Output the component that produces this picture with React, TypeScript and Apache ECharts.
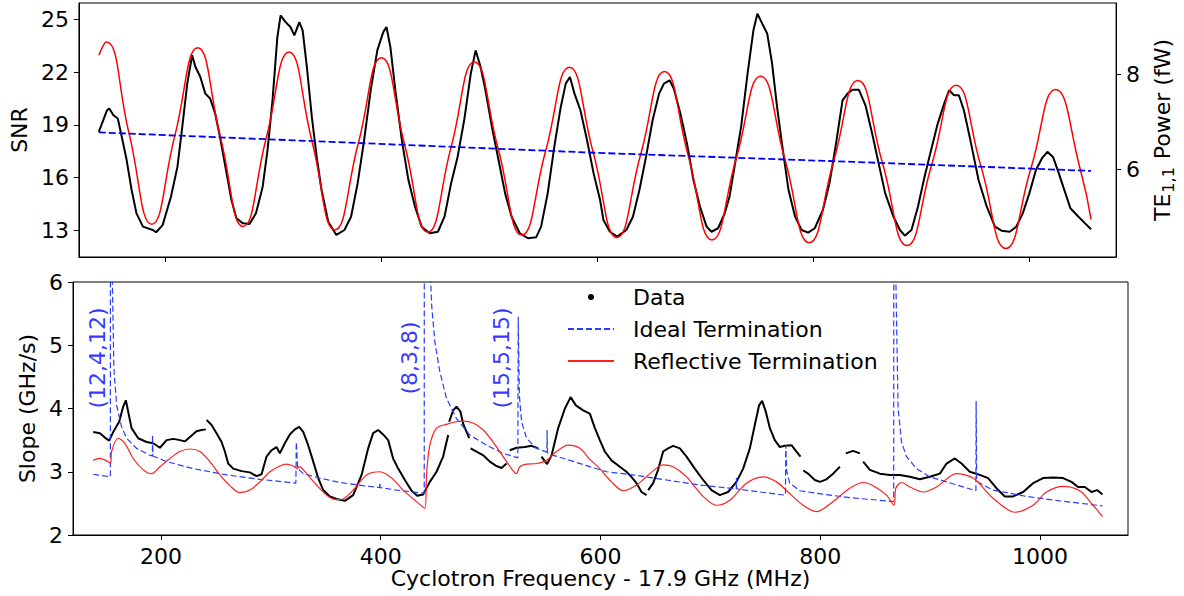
import React, { useEffect, useRef } from 'react';
import * as echarts from 'echarts';

const FONT = 'DejaVu Sans';

// Tick values
const xTicks = [200, 400, 600, 800, 1000];
const snrTicks = [13, 16, 19, 22, 25];
const powerTicks = [6, 8];
const slopeTicks = [2, 3, 4, 5, 6];

// Top panel: measured SNR (MHz, SNR)
const snrData = [
  [138.4, 18.6], [140.8, 18.98], [146.0, 19.83], [148.1, 19.93], [152.0, 19.55], [156.0, 19.36], [159.0, 18.51],
  [164.2, 16.99], [168.8, 15.28], [173.3, 13.95], [179.3, 13.19], [188.4, 13.0], [191.5, 12.87], [197.5, 13.28],
  [205.2, 14.9], [211.2, 16.6], [215.7, 18.88], [220.3, 21.35], [224.8, 22.97], [227.9, 22.3], [232.4, 21.73],
  [237.0, 20.78], [241.5, 20.5], [246.1, 19.65], [250.6, 18.31], [256.7, 16.23], [261.2, 14.71], [265.8, 13.67],
  [271.9, 13.38], [277.9, 13.34], [283.9, 13.95], [290.1, 15.47], [294.6, 17.56], [299.2, 20.4], [303.7, 24.0],
  [306.7, 25.24], [311.3, 24.86], [315.8, 24.58], [319.4, 24.1], [324.0, 24.86], [327.1, 24.39], [331.0, 22.3],
  [335.6, 19.45], [340.1, 17.17], [344.6, 15.28], [350.8, 13.47], [358.3, 12.72], [365.8, 13.0], [371.9, 13.76],
  [378.0, 15.66], [384.0, 18.13], [390.1, 20.98], [396.2, 23.25], [401.7, 24.29], [404.7, 24.58], [408.3, 23.44],
  [412.9, 20.97], [418.9, 18.13], [425.0, 15.85], [431.1, 14.33], [437.2, 13.19], [444.7, 12.81], [452.3, 12.9],
  [458.4, 13.76], [464.5, 15.66], [470.5, 17.17], [476.6, 19.26], [482.7, 21.92], [487.2, 23.25], [491.8, 22.3],
  [496.3, 20.97], [502.3, 18.88], [508.4, 16.99], [514.5, 15.09], [520.5, 13.76], [528.2, 12.81], [535.7, 12.53],
  [543.2, 12.58], [547.8, 13.19], [553.9, 15.09], [560.0, 17.74], [566.0, 20.02], [570.6, 21.35], [574.5, 21.73],
  [578.7, 20.78], [584.2, 19.83], [590.3, 18.13], [596.4, 16.23], [602.4, 14.71], [605.5, 13.57], [611.5, 12.9],
  [618.2, 12.62], [626.7, 13.0], [632.8, 13.76], [638.8, 15.28], [644.9, 17.17], [651.0, 19.26], [657.0, 20.78],
  [661.5, 21.35], [666.7, 21.54], [670.6, 21.07], [676.7, 19.65], [682.8, 17.94], [688.8, 15.85], [694.9, 14.33],
  [701.0, 13.19], [705.5, 12.9], [711.6, 13.1], [717.7, 13.95], [722.2, 14.9], [726.8, 16.6], [732.9, 18.88],
  [738.9, 21.92], [744.3, 24.39], [748.0, 25.34], [752.5, 24.77], [757.1, 24.2], [761.6, 22.49], [766.2, 20.02],
  [770.7, 17.94], [776.8, 15.28], [782.9, 13.76], [788.9, 13.0], [795.0, 12.85], [801.1, 13.1], [808.6, 14.14],
  [814.7, 15.66], [820.8, 17.94], [826.8, 20.4], [831.4, 20.78], [836.0, 21.0], [842.0, 21.0], [848.1, 20.1],
  [854.2, 18.51], [860.2, 16.8], [866.3, 15.09], [873.9, 13.76], [879.9, 13.0], [884.5, 12.68], [890.6, 13.0],
  [896.6, 14.33], [902.7, 16.04], [908.8, 17.56], [914.9, 19.07], [920.9, 20.21], [925.4, 20.97], [930.0, 20.69],
  [934.5, 20.69], [939.1, 19.83], [945.1, 18.13], [952.7, 15.85], [960.3, 14.33], [967.9, 13.19], [974.0, 12.96],
  [981.5, 12.9], [987.6, 13.19], [993.6, 13.95], [999.7, 15.09], [1005.8, 16.42], [1011.3, 17.08], [1016.4, 17.46],
  [1021.6, 17.17], [1027.0, 16.23], [1033.1, 15.09], [1037.7, 14.24], [1045.2, 13.76], [1051.3, 13.38], [1056.8, 13.04],
];

// Top panel: TE11 power (fW), reflective model (extrema and mid crossings)
const powerReflective = [
  [138.4, 8.4], [145.4, 8.68], [166.3, 6.77], [187.5, 4.85], [208.7, 6.7], [230.0, 8.56], [251.0, 6.68],
  [272.0, 4.8], [293.2, 6.64], [314.5, 8.47], [335.7, 6.6], [357.0, 4.73], [378.5, 6.54], [400.0, 8.35],
  [421.5, 6.52], [443.0, 4.68], [464.5, 6.47], [486.0, 8.26], [508.0, 6.44], [530.0, 4.62], [552.0, 6.39],
  [574.0, 8.15], [596.0, 6.36], [618.0, 4.57], [640.0, 6.32], [662.0, 8.06], [684.0, 6.29], [706.0, 4.52],
  [728.5, 6.24], [751.0, 7.96], [773.5, 6.21], [796.0, 4.46], [818.5, 6.17], [841.0, 7.87], [863.7, 6.14],
  [886.5, 4.4], [909.2, 6.09], [932.0, 7.77], [955.0, 6.06], [978.0, 4.34], [1001.0, 6.01], [1024.0, 7.68],
  [1047.0, 5.99], [1056.8, 4.95],
];

// Top panel: TE11 power (fW), ideal model
const powerIdeal = [[138.4, 6.78], [353.7, 6.58], [599.4, 6.35], [836.0, 6.16], [1056.8, 5.97]];

// Bottom panel: measured slope (GHz/s); null = gap in the data
const slopeData = [
  [138.4, 3.63], [144.5, 3.61], [149.0, 3.54], [152.9, 3.49], [156.6, 3.63], [162.0, 3.79], [165.7, 4.03],
  [168.1, 4.13], [170.2, 3.95], [173.3, 3.69], [179.3, 3.53], [186.9, 3.47], [193.0, 3.45], [199.1, 3.38],
  [205.2, 3.5], [211.2, 3.52], [217.3, 3.5], [221.8, 3.48], [226.4, 3.55], [232.4, 3.64], [237.0, 3.66],
  [240.9, 3.67], [241.2, null], [241.5, 3.82], [246.1, 3.74], [250.6, 3.61], [255.2, 3.47], [258.2, 3.32],
  [261.2, 3.13], [265.8, 3.05], [273.4, 3.01], [280.9, 2.99], [287.0, 2.93], [291.6, 2.96], [296.1, 3.24],
  [300.7, 3.34], [305.2, 3.39], [308.2, 3.29], [312.8, 3.45], [317.3, 3.59], [321.9, 3.67], [325.8, 3.71],
  [329.5, 3.63], [334.0, 3.42], [338.6, 3.16], [343.1, 2.9], [347.7, 2.71], [353.7, 2.61], [359.8, 2.57],
  [367.4, 2.54], [374.9, 2.63], [382.6, 2.95], [388.6, 3.37], [393.1, 3.61], [397.7, 3.66], [402.2, 3.59],
  [406.8, 3.5], [411.3, 3.21], [415.9, 3.05], [422.0, 2.87], [428.1, 2.7], [433.2, 2.62], [438.6, 2.64],
  [444.7, 2.84], [450.8, 3.0], [456.8, 3.24], [461.4, 3.58], [461.9, null], [462.3, 3.79], [465.9, 3.97],
  [469.0, 4.03], [472.6, 3.95], [475.0, 3.76], [478.1, 3.63], [480.5, 3.53], [481.2, null], [481.8, 3.37],
  [487.2, 3.32], [493.3, 3.26], [499.3, 3.16], [505.4, 3.09], [509.9, 3.06], [514.5, 3.13], [516.0, null],
  [517.5, 3.34], [523.6, 3.38], [531.2, 3.39], [537.3, 3.41], [543.3, 3.37], [544.8, null], [546.3, 3.24],
  [551.4, 3.12], [555.5, 3.26], [561.5, 3.69], [567.6, 4.0], [572.8, 4.18], [577.6, 4.05], [584.2, 3.97],
  [590.3, 3.92], [594.9, 3.69], [599.4, 3.5], [603.9, 3.32], [610.0, 3.18], [617.6, 3.08], [623.6, 3.0],
  [628.1, 2.92], [632.8, 2.82], [637.3, 2.68], [641.9, 2.63], [642.6, null], [643.4, 2.71], [647.9, 2.82],
  [652.4, 3.03], [657.0, 3.32], [661.5, 3.37], [666.1, 3.41], [672.2, 3.37], [678.3, 3.24], [685.8, 3.05],
  [693.4, 2.87], [701.0, 2.71], [708.6, 2.63], [716.1, 2.68], [723.7, 2.84], [729.8, 3.05], [735.9, 3.37],
  [740.4, 3.74], [744.3, 4.05], [747.1, 4.12], [750.4, 3.95], [754.1, 3.69], [758.6, 3.5], [763.2, 3.39],
  [767.7, 3.41], [773.8, 3.42], [778.3, 3.32], [782.0, 3.24], [783.2, null], [784.5, 3.02], [788.9, 2.97],
  [795.0, 2.87], [799.6, 2.84], [805.6, 2.88], [811.7, 2.97], [817.8, 3.08], [820.5, null], [823.2, 3.29],
  [829.9, 3.33], [836.0, 3.29], [837.5, null], [839.0, 3.16], [845.1, 3.03], [854.2, 2.97], [863.3, 2.95],
  [872.4, 2.95], [881.5, 2.92], [890.6, 2.88], [899.6, 2.92], [908.8, 2.97], [914.9, 3.13], [922.4, 3.21],
  [928.5, 3.13], [936.0, 3.0], [945.1, 2.95], [952.7, 2.9], [960.3, 2.74], [967.9, 2.61], [975.5, 2.61],
  [984.6, 2.68], [993.6, 2.82], [1002.7, 2.9], [1011.8, 2.91], [1020.9, 2.9], [1028.6, 2.84], [1034.6, 2.76],
  [1040.7, 2.76], [1046.8, 2.68], [1051.9, 2.71], [1056.8, 2.64],
];

// Bottom panel: ideal termination model (GHz/s)
const slopeIdeal = [
  [138.4, 2.96], [154.0, 2.92], [154.3, 20], [155.8, 6.0], [157.2, 4.63], [159.7, 4.05], [164.2, 3.71],
  [168.8, 3.53], [177.9, 3.37], [190.0, 3.26], [192.2, 3.25], [192.4, 3.58], [192.7, 3.25], [205.2, 3.16],
  [229.4, 3.05], [259.8, 2.95], [290.1, 2.88], [322.8, 2.82], [323.2, 3.47], [324.5, 3.05], [329.5, 2.97],
  [344.6, 2.9], [362.8, 2.83], [384.0, 2.78], [399.0, 2.75], [399.2, 2.83], [399.5, 2.75], [414.4, 2.71],
  [439.6, 2.66], [439.9, 20], [444.5, 6.4], [446.5, 5.6], [449.3, 5.05], [453.8, 4.58], [459.9, 4.16],
  [469.0, 3.84], [481.1, 3.58], [496.3, 3.42], [511.4, 3.29], [524.8, 3.22], [525.1, 5.45], [526.2, 4.2],
  [528.2, 3.79], [532.7, 3.53], [541.8, 3.37], [551.2, 3.31], [551.4, 3.66], [551.7, 3.3], [556.9, 3.26],
  [572.1, 3.18], [590.3, 3.08], [605.5, 3.0], [629.6, 2.95], [660.0, 2.87], [690.3, 2.79], [723.5, 2.73],
  [723.7, 2.9], [724.0, 2.73], [735.9, 2.7], [768.3, 2.63], [768.6, 3.42], [769.5, 3.0], [772.2, 2.82],
  [781.4, 2.7], [796.6, 2.66], [826.8, 2.59], [866.8, 2.53], [867.1, 20], [868.8, 6.0], [870.8, 4.0],
  [873.9, 3.47], [878.4, 3.24], [887.5, 3.05], [899.6, 2.92], [914.9, 2.84], [941.6, 2.7], [941.8, 4.12],
  [942.3, 2.86], [945.1, 2.82], [957.3, 2.71], [987.6, 2.61], [1017.9, 2.54], [1056.8, 2.46],
];

// Bottom panel: reflective termination model (GHz/s)
const slopeReflective = [
  [138.4, 3.18], [143.8, 3.21], [149.9, 3.18], [154.2, 3.13], [155.1, 3.32], [161.1, 3.53], [167.2, 3.45],
  [174.8, 3.21], [183.9, 3.03], [191.5, 2.97], [199.1, 3.08], [208.2, 3.21], [217.3, 3.32], [226.4, 3.36],
  [235.5, 3.32], [244.6, 3.16], [253.7, 2.95], [262.8, 2.78], [271.9, 2.67], [280.9, 2.71], [290.1, 2.84],
  [299.2, 3.0], [308.2, 3.09], [314.3, 3.12], [320.3, 3.09], [324.0, 3.05], [325.8, 3.08], [332.5, 2.97],
  [341.6, 2.79], [350.8, 2.63], [359.8, 2.56], [365.8, 2.57], [376.5, 2.74], [387.1, 2.95], [399.3, 3.0],
  [409.9, 2.9], [420.4, 2.71], [431.1, 2.55], [440.2, 2.42], [441.7, 2.95], [444.7, 3.42], [450.8, 3.69],
  [459.9, 3.75], [469.0, 3.79], [475.0, 3.8], [484.1, 3.77], [493.3, 3.66], [502.3, 3.47], [511.4, 3.24],
  [519.0, 3.05], [523.6, 2.97], [526.6, 3.08], [532.7, 3.12], [541.8, 3.13], [550.9, 3.18], [560.0, 3.32],
  [570.6, 3.42], [581.2, 3.37], [590.0, 3.2], [599.4, 3.05], [610.0, 2.84], [620.6, 2.7], [632.8, 2.79],
  [644.9, 2.97], [657.0, 3.11], [666.1, 3.08], [678.3, 2.92], [693.4, 2.61], [705.5, 2.47], [717.7, 2.55],
  [732.9, 2.82], [748.0, 2.92], [760.2, 2.84], [770.7, 2.68], [784.4, 2.47], [796.6, 2.37], [811.7, 2.53],
  [826.8, 2.74], [839.0, 2.83], [848.1, 2.78], [860.2, 2.63], [867.1, 2.47], [868.7, 2.74], [873.9, 2.83],
  [881.5, 2.76], [893.6, 2.68], [905.8, 2.76], [923.9, 2.97], [939.1, 2.9], [957.3, 2.58], [977.0, 2.36],
  [993.6, 2.47], [1005.8, 2.68], [1020.9, 2.77], [1036.1, 2.7], [1048.3, 2.47], [1056.8, 2.29],
];

// Mode annotations
const modeLabels = ['(12,4,12)', '(8,3,8)', '(15,5,15)'];
const modeX = [142.7, 426.5, 509.9];
const modeY = [4.8, 4.8, 4.8];

const withGaps = (arr: any[]) => arr.map((p) => (p[1] === null ? [p[0], '-'] : p));

export default function App() {
  const ref = useRef<HTMLDivElement>(null);
  useEffect(() => {
    if (!ref.current) return;
    const chart = echarts.init(ref.current, null, { renderer: 'svg' });
    const black = '#000000';
    const labelStyle = { fontSize: 22, color: black, fontFamily: FONT };
    const axisLine = { show: true, onZero: false, lineStyle: { color: black, width: 1 } };
    const tick = (vals: number[]) => ({ show: true, length: 5, customValues: vals, lineStyle: { color: black, width: 1 } });
    const plain = (v: number) => String(v);
    chart.setOption({
      animation: false,
      backgroundColor: '#ffffff',
      textStyle: { fontFamily: FONT },
      grid: [
        { left: 73, top: 3, width: 1055, height: 254, show: true, borderColor: black, borderWidth: 1, backgroundColor: 'transparent' },
        { left: 73, top: 282, width: 1055, height: 253, show: true, borderColor: black, borderWidth: 1, backgroundColor: 'transparent' },
      ],
      xAxis: [
        {
          type: 'value', gridIndex: 0, min: 120, max: 1080,
          axisLine, axisTick: tick(xTicks), axisLabel: { show: false }, splitLine: { show: false },
        },
        {
          type: 'value', gridIndex: 1, min: 120, max: 1080,
          name: 'Cyclotron Frequency - 17.9 GHz (MHz)', nameLocation: 'middle', nameGap: 32,
          nameTextStyle: labelStyle,
          axisLine, axisTick: tick(xTicks),
          axisLabel: { ...labelStyle, margin: 10, customValues: xTicks, formatter: plain },
          splitLine: { show: false },
        },
      ],
      yAxis: [
        {
          type: 'value', gridIndex: 0, min: 11.46, max: 25.95,
          name: 'SNR', nameLocation: 'middle', nameGap: 40, nameTextStyle: labelStyle,
          axisLine, axisTick: tick(snrTicks),
          axisLabel: { ...labelStyle, margin: 10, customValues: snrTicks, formatter: plain },
          splitLine: { show: false },
        },
        {
          type: 'value', gridIndex: 0, position: 'right', min: 4.16, max: 9.5,
          name: '{m|TE}{s|1,1}{m| Power (fW)}', nameLocation: 'middle', nameGap: 18,
          nameTextStyle: {
            ...labelStyle,
            rich: {
              m: { fontSize: 22, lineHeight: 28, color: black, fontFamily: FONT },
              s: { fontSize: 16, color: black, fontFamily: FONT, verticalAlign: 'bottom', padding: [0, 1, 0, 1] },
            },
          },
          axisLine, axisTick: tick(powerTicks),
          axisLabel: { ...labelStyle, margin: 10, customValues: powerTicks, formatter: plain },
          splitLine: { show: false },
        },
        {
          type: 'value', gridIndex: 1, min: 2, max: 6, interval: 1,
          name: 'Slope (GHz/s)', nameLocation: 'middle', nameGap: 28, nameTextStyle: labelStyle,
          axisLine, axisTick: tick(slopeTicks),
          axisLabel: { ...labelStyle, margin: 10, customValues: slopeTicks, formatter: plain },
          splitLine: { show: false },
        },
      ],
      legend: {
        data: [
          { name: 'Data', icon: 'path://M0,0M46,14M20,7a3,3 0 1,0 6,0a3,3 0 1,0 -6,0' },
          { name: 'Ideal Termination', itemStyle: { opacity: 0 } },
          { name: 'Reflective Termination', itemStyle: { opacity: 0 } },
        ],
        orient: 'vertical', left: 567, top: 285, padding: 0, itemWidth: 46, itemHeight: 14, itemGap: 8,
        textStyle: { fontSize: 22, color: black, fontFamily: FONT, lineHeight: 24, padding: [0, 0, 0, 14] },
        selectedMode: false,
      },
      series: [
        {
          name: 'SNR data', type: 'line', xAxisIndex: 0, yAxisIndex: 0, data: snrData,
          symbol: 'none', lineStyle: { color: black, width: 2 }, z: 3,
        },
        {
          name: 'TE11 power (reflective)', type: 'line', xAxisIndex: 0, yAxisIndex: 1, data: powerReflective,
          symbol: 'none', smooth: 0.5, lineStyle: { color: '#ff0000', width: 1.5 }, z: 4,
        },
        {
          name: 'TE11 power (ideal)', type: 'line', xAxisIndex: 0, yAxisIndex: 1, data: powerIdeal,
          symbol: 'none', lineStyle: { color: '#0000ff', width: 1.8, type: [7, 3] }, z: 4,
        },
        {
          name: 'Data', type: 'line', xAxisIndex: 1, yAxisIndex: 2, data: withGaps(slopeData),
          symbol: 'none', connectNulls: false, itemStyle: { color: black },
          lineStyle: { color: black, width: 2 }, z: 3,
        },
        {
          name: 'Ideal Termination', type: 'line', xAxisIndex: 1, yAxisIndex: 2, data: slopeIdeal,
          symbol: 'none', itemStyle: { color: '#2a3cff' },
          lineStyle: { color: '#2a3cff', width: 1.2, type: [6, 3] }, z: 4,
        },
        {
          name: 'Reflective Termination', type: 'line', xAxisIndex: 1, yAxisIndex: 2, data: slopeReflective,
          symbol: 'none', smooth: 0.3, itemStyle: { color: '#ff2020' },
          lineStyle: { color: '#ff2020', width: 1.2 }, z: 4,
        },
        {
          name: 'mode labels', type: 'scatter', xAxisIndex: 1, yAxisIndex: 2,
          data: modeX.map((x, i) => [x, modeY[i]]), symbolSize: 1,
          itemStyle: { color: 'rgba(0,0,0,0)' }, silent: true, z: 5,
          label: {
            show: true, position: 'inside', rotate: 90, color: '#0000ff', fontSize: 22, fontFamily: FONT,
            formatter: (p: any) => modeLabels[p.dataIndex],
          },
        },
      ],
    });
    return () => chart.dispose();
  }, []);
  return (
    <div
      ref={ref}
      style={{ position: 'fixed', left: 0, top: 0, width: 1184, height: 596, background: '#ffffff' }}
    />
  );
}
